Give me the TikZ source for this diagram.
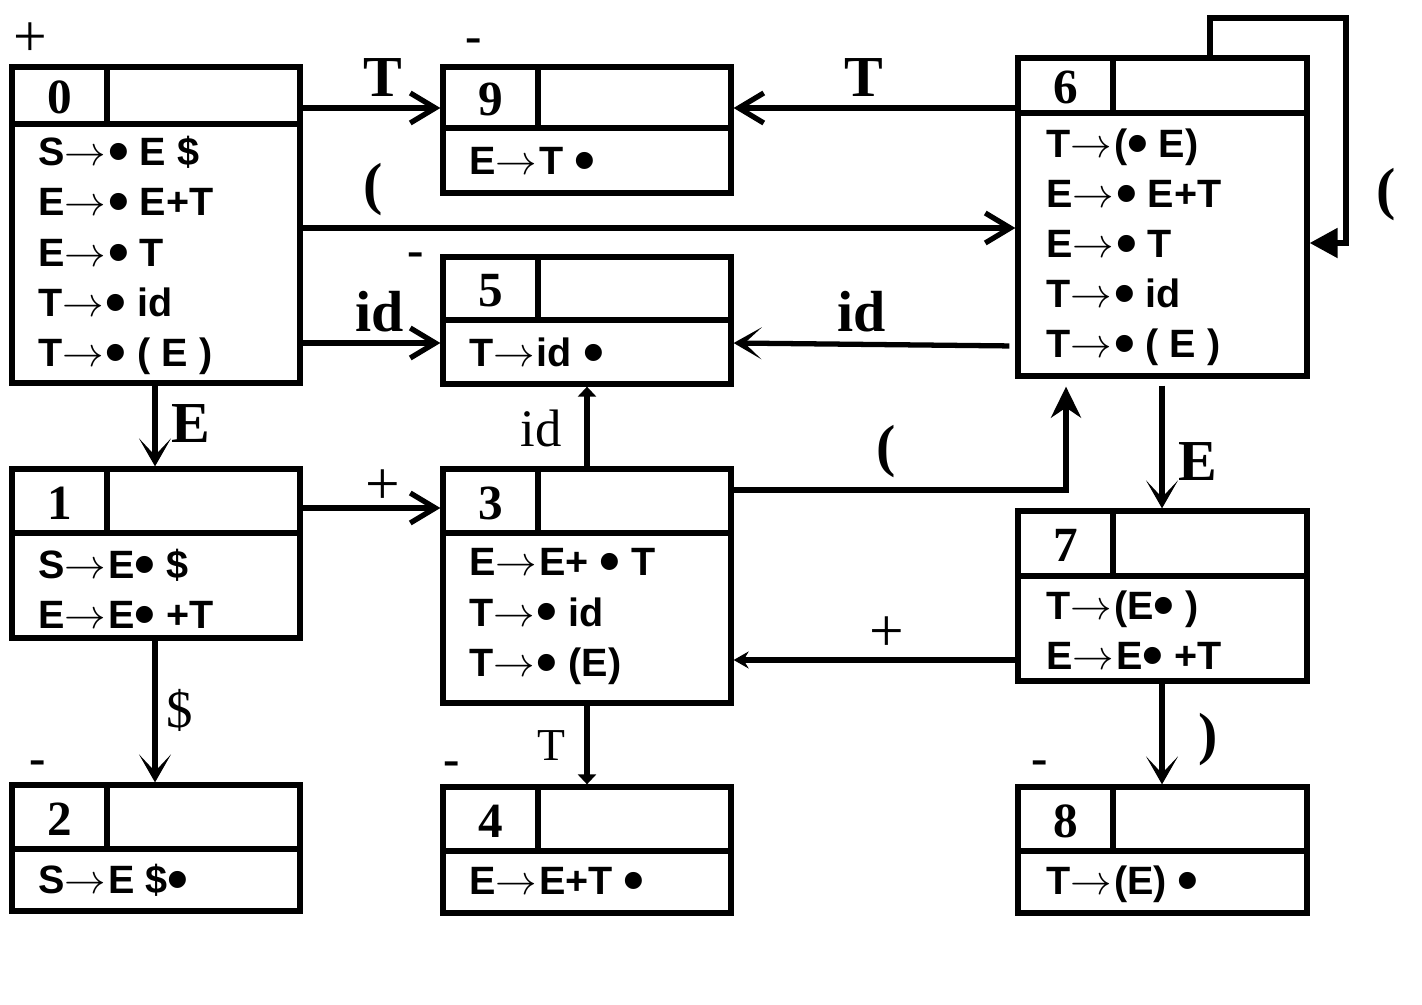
\documentclass[tikz,border=0pt]{standalone}
\usepackage{fontspec}
\usepackage{graphicx}
\setmainfont{Liberation Serif}
\newfontfamily\itemfont{Liberation Sans}
\usetikzlibrary{arrows.meta,fit}

% item marks
\newcommand{\ito}{\resizebox{1.05em}{!}{$\rightarrow$}\kern0.05em}
\newcommand{\idot}{\raisebox{-0.15em}{\scalebox{1.5}{•}}}

% box with header: name, left, top, right, bottom, header line, number
\newcommand{\StateBox}[7]{%
	\node[statebox, fit={(#2,#3) (#4,#5)}] (#1) {};
	\draw[boxline] (#1.west |- 0,#6) -- (#1.east |- 0,#6);
	\draw[boxline] (#2+95,#3) -- (#2+95,#6);
	\node[statenum] (#1n) at (#2+47.5,{(#3+#6)/2+2}) {#7};
}

\begin{document}
\begin{tikzpicture}[x=0.02cm, y=-0.02cm,
		statebox/.style={draw, line width=3pt, inner sep=0pt, outer sep=1.5pt},
		boxline/.style={line width=3pt},
		statenum/.style={font=\bfseries\fontsize{28}{28}\selectfont, inner sep=0pt},
		items/.style={anchor=west, align=left, inner sep=0pt, font=\itemfont\bfseries\fontsize{22.5}{28.5}\selectfont},
		symlab/.style={font=\bfseries\fontsize{33}{33}\selectfont, inner sep=0pt},
		symlabr/.style={font=\fontsize{30}{30}\selectfont, inner sep=0pt},
		signmark/.style={font=\fontsize{34}{34}\selectfont, inner sep=0pt},
		endmark/.style={font=\bfseries\fontsize{28}{28}\selectfont, inner sep=0pt},
		barb/.style={line width=3pt, -{Straight Barb[length=0.5cm,width=0.6cm]}},
		kite/.style={line width=3pt, -{Stealth[length=0.56cm,width=0.64cm,inset=0.34cm]}},
		smallkite/.style={line width=3pt, -{Stealth[length=0.3cm,width=0.34cm,inset=0.1cm]}},
		sharp/.style={line width=3pt, -{Stealth[length=0.62cm,width=0.6cm,inset=0.2cm]}},
		small/.style={line width=3pt, -{Triangle[length=0.2cm,width=0.36cm]}},
		loop/.style={line width=3pt, -{Triangle[length=0.56cm,width=0.58cm]}}]
	\useasboundingbox (0,0) rectangle (1422,1004);

	\StateBox{s0}{12}{67}{300}{383}{124}{0}
	\StateBox{s9}{443}{67}{731}{193}{128}{9}
	\StateBox{s6}{1018}{58}{1307}{376}{113}{6}
	\StateBox{s5}{443}{257}{731}{384}{320}{5}
	\StateBox{s1}{12}{469}{300}{638}{533}{1}
	\StateBox{s3}{443}{469}{731}{703}{533}{3}
	\StateBox{s7}{1018}{511}{1307}{681}{576}{7}
	\StateBox{s2}{12}{785}{300}{911}{849}{2}
	\StateBox{s4}{443}{787}{731}{913}{851}{4}
	\StateBox{s8}{1018}{787}{1307}{913}{851}{8}

	% items
	\node[items] (s0t) at (38,255.5) {S\ito\idot{} E \$\\E\ito\idot{} E+T\\E\ito\idot{} T\\T\ito\idot{} id\\T\ito\idot{} ( E )};
	\node[items] (s9t) at (469,164) {E\ito T \idot};
	\node[items] (s6t) at (1046,247.5) {T\ito(\idot{} E)\\E\ito\idot{} E+T\\E\ito\idot{} T\\T\ito\idot{} id\\T\ito\idot{} ( E )};
	\node[items] (s5t) at (469,355) {T\ito id \idot};
	\node[items] (s1t) at (38,591.5) {S\ito E\idot{} \$\\E\ito E\idot{} +T};
	\node[items] (s3t) at (469,616.5) {E\ito E+ \idot{} T\\T\ito\idot{} id\\T\ito\idot{} (E)};
	\node[items] (s7t) at (1046,633.5) {T\ito(E\idot{} )\\E\ito E\idot{} +T};
	\node[items] (s2t) at (38,882) {S\ito E \$\idot};
	\node[items] (s4t) at (469,884) {E\ito E+T \idot};
	\node[items] (s8t) at (1046,884) {T\ito(E) \idot};

	% start and final marks
	\node[signmark] (m0) at (30,40) {+};
	\node[endmark] (m9) at (474,46) {-};
	\node[endmark] (m5) at (416,260) {-};
	\node[endmark] (m2) at (38,768) {-};
	\node[endmark] (m4) at (452,769) {-};
	\node[endmark] (m8) at (1040,768) {-};

	% transitions
	\coordinate (loop6) at (1346,18);
	\draw[barb] (s0.east |- 0,108) -- (s9.west |- 0,108);
	\draw[barb] (s6.west |- 0,108) -- (s9.east |- 0,108);
	\draw[barb] (s0.east |- 0,228) -- (s6.west |- 0,228);
	\draw[barb] (s0.east |- 0,343) -- (s5.west |- 0,343);
	\draw[kite, shorten <=0.12cm] (s6.west |- 0,346) -- (s5.east |- 0,343);
	\draw[loop] (s6.north -| 1210,0) |- (loop6) |- (s6.east |- 0,243);
	\draw[kite] (s0.south -| 155,0) -- (s1.north -| 155,0);
	\draw[barb] (s1.east |- 0,508) -- (s3.west |- 0,508);
	\draw[small] (s3.north -| 587,0) -- (s5.south -| 587,0);
	\draw[sharp, shorten >=0.16cm] (s3.east |- 0,490) -| (s6.south -| 1066,0);
	\draw[kite, shorten <=0.14cm] (s6.south -| 1162,0) -- (s7.north -| 1162,0);
	\draw[smallkite] (s7.west |- 0,660) -- (s3.east |- 0,660);
	\draw[kite] (s1.south -| 155,0) -- (s2.north -| 155,0);
	\draw[small] (s3.south -| 587,0) -- (s4.north -| 587,0);
	\draw[kite] (s7.south -| 1162,0) -- (s8.north -| 1162,0);

	% labels
	\node[symlab] (l09) at (383,78) {T};
	\node[symlab] (l69) at (864,78) {T};
	\node[symlab] (l06) at (373,190) {(};
	\node[symlab] (l05) at (380,312) {id};
	\node[symlab] (l65) at (862,312) {id};
	\node[symlab] (l66) at (1386,195) {(};
	\node[symlab] (l01) at (191,424) {E};
	\node[symlabr, font=\fontsize{35}{35}\selectfont] (l13) at (383,487) {+};
	\node[symlabr] (l35) at (541,428) {id};
	\node[symlab] (l36) at (886,452) {(};
	\node[symlab] (l67) at (1198,462) {E};
	\node[symlabr, font=\fontsize{35}{35}\selectfont] (l73) at (887,634) {+};
	\node[symlabr] (l12) at (180,710) {\$};
	\node[symlabr, font=\fontsize{26}{26}\selectfont] (l34) at (551,746) {T};
	\node[symlab] (l78) at (1208,740) {)};
\end{tikzpicture}
\end{document}
